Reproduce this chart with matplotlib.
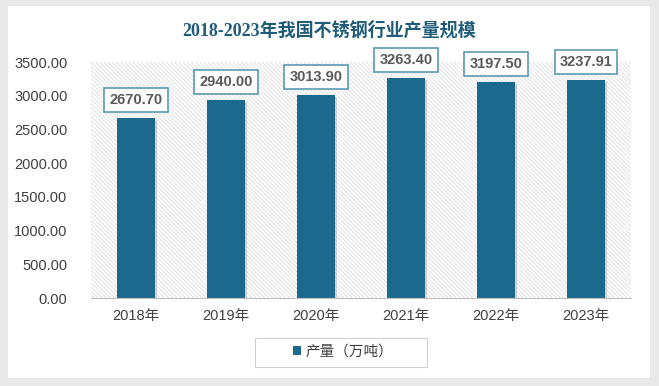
import matplotlib.pyplot as plt
from matplotlib.patches import Rectangle, Patch
import matplotlib.patheffects as pe

# --- data ---
years = ['2018年', '2019年', '2020年', '2021年', '2022年', '2023年']
output = [2670.70, 2940.00, 3013.90, 3263.40, 3197.50, 3237.91]
series_name = '产量（万吨）'
title = '2018-2023年我国不锈钢行业产量规模'

bar_color = '#1b6a8e'
sans = ['Liberation Sans', 'Noto Sans CJK SC']

fig = plt.figure(figsize=(6.59, 3.86), dpi=100)
fig.patch.set_facecolor('#e9e9e9')

# white card
W, H = 659, 386
fig.patches.append(Rectangle((8 / W, 8 / H), (650 - 8) / W, (378 - 6) / H,
                             transform=fig.transFigure, facecolor='white',
                             edgecolor='none', zorder=-10))

ax = fig.add_axes([91 / W, 88 / H, 540 / W, 236 / H])
ax.set_zorder(1)
ax.set_facecolor('white')
plt.rcParams['hatch.color'] = '#e0e0e0'
plt.rcParams['hatch.linewidth'] = 0.7
ax.add_patch(Rectangle((0, 0), 1, 1, transform=ax.transAxes, facecolor='white',
                       edgecolor='#e0e0e0', linewidth=0, hatch='\\' * 8, zorder=0))

x = range(len(years))
bars = ax.bar(x, output, width=0.42, color=bar_color, zorder=3)
for b in bars:
    b.set_path_effects([pe.SimplePatchShadow(offset=(1.5, -1.5), shadow_rgbFace='#999999', alpha=0.4),
                        pe.Normal()])

for xi, v in zip(x, output):
    ax.annotate(f'{v:.2f}', (xi, v), xytext=(0, 13), textcoords='offset points',
                ha='center', va='center', fontsize=10.5, fontweight='bold',
                color='#595959', family=sans, zorder=5,
                bbox=dict(boxstyle='square,pad=0.35', facecolor='white',
                          edgecolor='#5a9ab3', linewidth=1.2))

ax.set_xlim(-0.5, len(years) - 0.5)
ax.set_ylim(0, 3500)
ax.set_yticks(range(0, 3501, 500))
ax.set_yticklabels([f'{t:.2f}' for t in range(0, 3501, 500)])
ax.set_xticks(list(x))
ax.set_xticklabels(years)
for lab in ax.get_yticklabels() + ax.get_xticklabels():
    lab.set_family(sans)
    lab.set_fontsize(10.5)
    lab.set_color('#404040')
ax.tick_params(axis='y', length=0, pad=17)
ax.tick_params(axis='x', length=0, pad=8)

for s in ['top', 'right', 'left']:
    ax.spines[s].set_visible(False)
ax.spines['bottom'].set_color('#bfbfbf')
ax.spines['bottom'].set_zorder(4)

fig.text(329 / W, 1 - 30 / H, title, ha='center', va='center', fontsize=13,
         fontweight='bold', color='#1f5c7a',
         family=['Liberation Serif', 'Noto Sans CJK SC'])

# legend box drawn by hand, wider than matplotlib's default padding
fig.patches.append(Rectangle((255 / W, 1 - 367 / H), 172 / W, 29 / H,
                             transform=fig.transFigure, facecolor='white',
                             edgecolor='#d0d0d0', linewidth=0.8, zorder=2))
leg = fig.legend([Patch(facecolor=bar_color)], [series_name], loc='center',
                 bbox_to_anchor=(343 / W, 1 - 352 / H),
                 frameon=False, handlelength=0.6, handleheight=0.6, handletextpad=0.3,
                 prop={'family': sans, 'size': 10.5})
leg.set_zorder(3)
for t in leg.get_texts():
    t.set_color('#404040')

fig.savefig('out.png', dpi=100, facecolor=fig.get_facecolor())
